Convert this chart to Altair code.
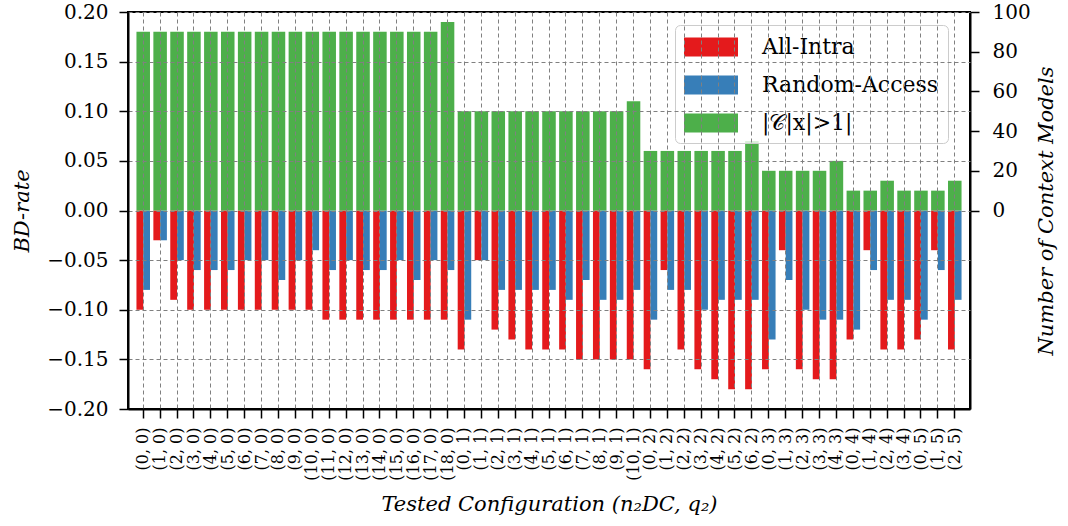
import altair as alt
import pandas as pd

configs = [
    "(0, 0)", "(1, 0)", "(2, 0)", "(3, 0)", "(4, 0)", "(5, 0)", "(6, 0)", "(7, 0)", "(8, 0)", "(9, 0)",
    "(10, 0)", "(11, 0)", "(12, 0)", "(13, 0)", "(14, 0)", "(15, 0)", "(16, 0)", "(17, 0)", "(18, 0)",
    "(0, 1)", "(1, 1)", "(2, 1)", "(3, 1)", "(4, 1)", "(5, 1)", "(6, 1)", "(7, 1)", "(8, 1)", "(9, 1)", "(10, 1)",
    "(0, 2)", "(1, 2)", "(2, 2)", "(3, 2)", "(4, 2)", "(5, 2)", "(6, 2)",
    "(0, 3)", "(1, 3)", "(2, 3)", "(3, 3)", "(4, 3)",
    "(0, 4)", "(1, 4)", "(2, 4)", "(3, 4)",
    "(0, 5)", "(1, 5)", "(2, 5)",
]

all_intra = [
    -0.10, -0.03, -0.09, -0.10, -0.10, -0.10, -0.10, -0.10, -0.10, -0.10,
    -0.10, -0.11, -0.11, -0.11, -0.11, -0.11, -0.11, -0.11, -0.11,
    -0.14, -0.05, -0.12, -0.13, -0.14, -0.14, -0.14, -0.15, -0.15, -0.15, -0.15,
    -0.16, -0.06, -0.14, -0.16, -0.17, -0.18, -0.18,
    -0.16, -0.04, -0.16, -0.17, -0.17,
    -0.13, -0.04, -0.14, -0.14,
    -0.13, -0.04, -0.14,
]

random_access = [
    -0.08, -0.03, -0.05, -0.06, -0.06, -0.06, -0.05, -0.05, -0.07, -0.05,
    -0.04, -0.06, -0.05, -0.06, -0.06, -0.05, -0.07, -0.05, -0.06,
    -0.11, -0.05, -0.08, -0.08, -0.08, -0.08, -0.09, -0.07, -0.09, -0.09, -0.08,
    -0.11, -0.08, -0.08, -0.10, -0.09, -0.09, -0.09,
    -0.13, -0.07, -0.10, -0.11, -0.11,
    -0.12, -0.06, -0.09, -0.09,
    -0.11, -0.06, -0.09,
]

n_context = [
    90, 90, 90, 90, 90, 90, 90, 90, 90, 90,
    90, 90, 90, 90, 90, 90, 90, 90, 95,
    50, 50, 50, 50, 50, 50, 50, 50, 50, 50, 55,
    30, 30, 30, 30, 30, 30, 35,
    20, 20, 20, 20, 25,
    10, 10, 15, 10,
    10, 10, 15,
]

series_names = ["All-Intra", "Random-Access"]
ctx_label = "|𝒞|x|>1|"
colors = ["#e41a1c", "#377eb8", "#4daf4a"]
bd_ticks = [-0.20, -0.15, -0.10, -0.05, 0.0, 0.05, 0.10, 0.15, 0.20]
ctx_ticks = [0, 20, 40, 60, 80, 100]

bd = pd.DataFrame({
    "config": configs * 2,
    "series": [series_names[0]] * len(configs) + [series_names[1]] * len(configs),
    "value": all_intra + random_access,
})
ctx = pd.DataFrame({"config": configs, "count": n_context, "series": [ctx_label] * len(configs)})

font = "DejaVu Serif"
color_scale = alt.Scale(domain=series_names + [ctx_label], range=colors)

x_axis = alt.Axis(
    title="Tested Configuration (n₂DC, q₂)",
    labelAngle=270, labelFontSize=16, labelPadding=9,
    bandPosition=0.5, grid=True, gridDash=[4, 3], gridColor="#808080", gridWidth=1,
    tickSize=9, tickColor="black", tickWidth=1.5,
    domainColor="black", domainWidth=2, titlePadding=13, zindex=1,
)
x_enc = alt.X("config:N", sort=configs,
              scale=alt.Scale(paddingInner=0.2, paddingOuter=0.5), axis=x_axis)

bars = alt.Chart(bd).mark_bar().encode(
    x=x_enc,
    xOffset=alt.XOffset("series:N", sort=series_names,
                        scale=alt.Scale(paddingInner=0, paddingOuter=0)),
    y=alt.Y("value:Q", scale=alt.Scale(domain=[-0.2, 0.2], nice=False, zero=False),
            axis=alt.Axis(title="BD-rate", orient="left", values=bd_ticks,
                          labelExpr="datum.value < 0 ? '\u2212' + format(-datum.value, '.2f') : format(datum.value, '.2f')",
                          grid=True, gridDash=[4, 3], gridColor="#808080", gridWidth=1,
                          labelFontSize=20, labelPadding=11, tickSize=9, tickColor="black",
                          tickWidth=1.5, domainColor="black", domainWidth=2,
                          titlePadding=14, zindex=1)),
    color=alt.Color("series:N", scale=color_scale,
                    legend=alt.Legend(title=None, orient="none", legendX=547, legendY=13,
                                      symbolType="M-2.077,-0.73H2.077V0.73H-2.077Z",
                                      symbolSize=676, symbolOffset=14,
                                      symbolStrokeWidth=0, symbolOpacity=1,
                                      labelFontSize=22, labelFont=font, labelOffset=38,
                                      labelLimit=400, padding=9, rowPadding=14,
                                      fillColor="rgba(255,255,255,0.8)",
                                      strokeColor="#cccccc",
                                      cornerRadius=5)),
)

ctx_bars = alt.Chart(ctx).mark_bar().encode(
    x=alt.X("config:N", sort=configs),
    y=alt.Y("count:Q", scale=alt.Scale(domain=[-100, 100], nice=False, zero=False),
            axis=alt.Axis(title="Number of Context Models", orient="right", values=ctx_ticks,
                          grid=False, labelFontSize=20, labelPadding=13, tickSize=9,
                          tickColor="black", tickWidth=1.5, domainColor="black",
                          domainWidth=2, titleAngle=270, titlePadding=26)),
    color=alt.Color("series:N", scale=color_scale),
)

chart = alt.layer(bars, ctx_bars).resolve_scale(y="independent").properties(
    width=842, height=397,
    padding={"left": 11, "right": 5, "top": 2, "bottom": 5},
).configure_view(stroke="black", strokeWidth=2).configure_axis(
    labelFont=font, titleFont=font, titleFontSize=21, titleFontStyle="italic",
    titleFontWeight="normal", labelColor="black", titleColor="black",
)

chart.save("out.html", embed_options={"renderer": "svg", "actions": False})
